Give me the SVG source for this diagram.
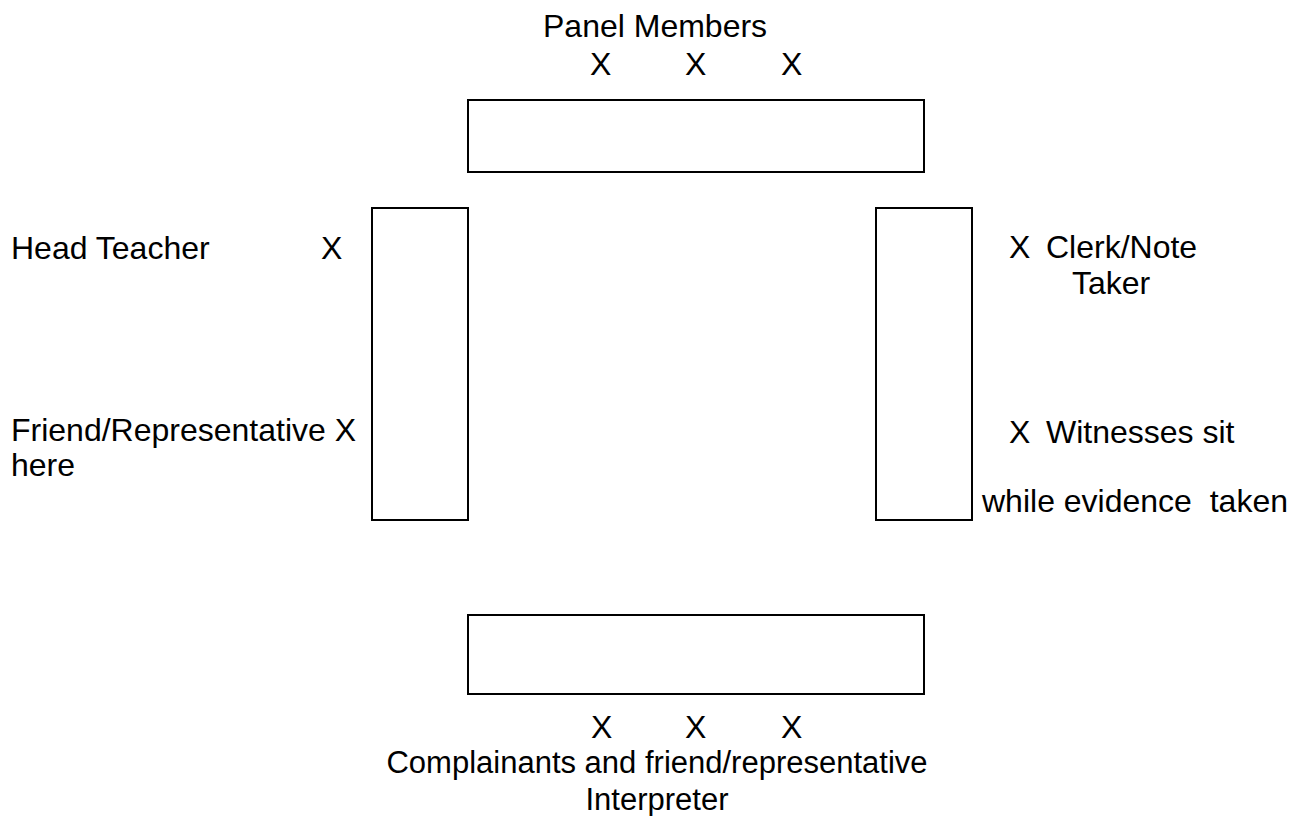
<svg xmlns="http://www.w3.org/2000/svg" width="1291" height="816" viewBox="0 0 1291 816">
<style>
text{font-family:"Liberation Sans",Arial,sans-serif;font-size:32px;fill:#000}
text.s{font-size:31px}
rect.t{fill:#fff;stroke:#000;stroke-width:2}
</style>
<rect width="1291" height="816" fill="#fff"/>
<g id="top-table"><rect class="t" x="468" y="100" width="456" height="72"/></g>
<g id="left-table"><rect class="t" x="372" y="208" width="96" height="312"/></g>
<g id="right-table"><rect class="t" x="876" y="208" width="96" height="312"/></g>
<g id="bottom-table"><rect class="t" x="468" y="615" width="456" height="79"/></g>
<g id="panel">
<text x="543" y="37">Panel Members</text>
<text x="590" y="75">X</text><text x="685" y="75">X</text><text x="781" y="75">X</text>
</g>
<g id="head-teacher"><text x="11" y="259">Head Teacher</text><text x="321" y="259">X</text></g>
<g id="friend-rep"><text x="11" y="441">Friend/Representative X</text><text x="11" y="476">here</text></g>
<g id="clerk"><text x="1009" y="258">X</text><text x="1046" y="258">Clerk/Note</text><text x="1072" y="294">Taker</text></g>
<g id="witnesses"><text x="1009" y="443">X</text><text x="1046" y="443">Witnesses sit</text><text x="982" y="512" xml:space="preserve">while evidence  taken</text></g>
<g id="complainants">
<text x="591" y="738">X</text><text x="685" y="738">X</text><text x="781" y="738">X</text>
<text class="s" x="657" y="773" text-anchor="middle">Complainants and friend/representative</text>
<text class="s" x="657" y="810" text-anchor="middle">Interpreter</text>
</g>
<g id="connectors"></g>
</svg>
